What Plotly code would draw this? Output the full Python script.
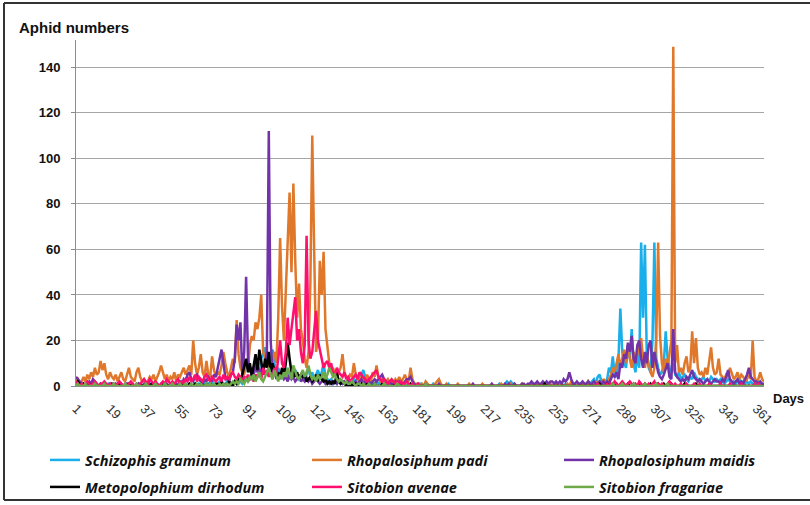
import plotly.graph_objects as go

# ---------------- data (days 1..365) ----------------
days = list(range(1, 366))

schizaphis_graminum = [
    3, 2, 1, 1, 0, 0, 1, 0, 0, 1, 0, 0, 0, 1, 0, 0, 0, 1, 0, 0,
    0, 0, 1, 0, 0, 0, 0, 1, 0, 0, 0, 0, 0, 1, 0, 0, 0, 0, 0, 1,
    0, 0, 0, 1, 0, 0, 0, 0, 1, 0, 0, 0, 0, 0, 1, 0, 0, 0, 1, 0,
    1, 0, 0, 1, 0, 1, 0, 0, 1, 0, 1, 0, 2, 1, 0, 1, 2, 1, 0, 1,
    2, 1, 0, 1, 2, 1, 3, 2, 1, 2, 4, 2, 3, 5, 8, 6, 10, 8, 12, 14,
    17, 13, 9, 12, 16, 10, 6, 8, 5, 4, 6, 8, 5, 3, 6, 4, 7, 5, 3, 4,
    6, 3, 5, 8, 4, 6, 3, 5, 7, 4, 6, 10, 4, 3, 2, 3, 1, 2, 1, 2,
    1, 2, 1, 1, 2, 1, 2, 3, 2, 4, 3, 5, 7, 4, 2, 1, 2, 1, 1, 2,
    1, 2, 1, 1, 0, 1, 0, 1, 0, 0, 1, 0, 0, 1, 0, 0, 1, 0, 0, 0,
    0, 0, 1, 0, 0, 0, 0, 0, 0, 1, 0, 0, 0, 0, 0, 0, 0, 1, 0, 0,
    0, 0, 0, 0, 0, 0, 0, 0, 0, 0, 0, 0, 0, 0, 0, 0, 0, 0, 0, 0,
    0, 0, 0, 0, 1, 0, 0, 1, 2, 1, 2, 1, 1, 0, 0, 0, 1, 0, 0, 0,
    0, 0, 1, 0, 0, 0, 0, 0, 0, 0, 1, 0, 0, 0, 0, 0, 0, 0, 0, 1,
    0, 0, 0, 1, 0, 0, 0, 1, 0, 1, 0, 2, 1, 2, 3, 1, 4, 5, 2, 1,
    2, 3, 8, 6, 13, 5, 4, 12, 34, 15, 10, 8, 18, 12, 25, 10, 6, 14, 8, 63,
    30, 62, 12, 8, 6, 20, 63, 12, 8, 5, 6, 10, 24, 12, 8, 6, 10, 5, 4, 6,
    3, 4, 5, 3, 2, 4, 3, 6, 4, 3, 2, 3, 4, 2, 3, 2, 4, 3, 2, 3,
    2, 3, 2, 1, 2, 3, 2, 1, 2, 1, 2, 3, 1, 2, 1, 2, 1, 2, 1, 1,
    1, 2, 1, 1, 0,
]

rhopalosiphum_padi = [
    2, 3, 1, 2, 4, 2, 5, 3, 6, 4, 8, 5, 6, 11, 7, 10, 5, 3, 6, 4,
    3, 5, 2, 4, 6, 3, 2, 5, 8, 4, 3, 2, 6, 8, 4, 2, 3, 1, 2, 4,
    3, 5, 2, 4, 6, 9, 6, 3, 5, 2, 4, 3, 6, 2, 5, 4, 6, 8, 5, 7,
    9, 5, 20, 10, 5, 8, 14, 6, 4, 11, 5, 4, 13, 7, 4, 6, 5, 9, 15, 10,
    6, 4, 8, 12, 10, 29, 14, 8, 6, 5, 10, 8, 18, 22, 20, 28, 25, 30, 40, 15,
    12, 8, 10, 6, 12, 15, 10, 30, 65, 35, 20, 40, 62, 85, 50, 89, 55, 30, 45, 25,
    20, 12, 8, 15, 45, 110, 60, 15, 20, 55, 40, 59, 25, 18, 10, 6, 8, 5, 4, 6,
    8, 14, 6, 4, 3, 5, 4, 10, 5, 3, 2, 4, 3, 2, 5, 3, 2, 6, 4, 9,
    4, 2, 3, 1, 2, 3, 1, 2, 1, 3, 2, 4, 2, 3, 5, 3, 2, 8, 3, 1,
    1, 0, 0, 1, 0, 2, 1, 0, 0, 0, 1, 2, 3, 1, 0, 0, 1, 0, 0, 0,
    0, 0, 1, 0, 0, 0, 0, 0, 1, 0, 0, 0, 0, 0, 0, 1, 0, 0, 0, 0,
    0, 0, 0, 0, 0, 1, 0, 0, 0, 0, 1, 0, 0, 0, 0, 0, 1, 0, 0, 0,
    0, 1, 0, 0, 1, 0, 0, 1, 0, 0, 0, 1, 0, 0, 1, 0, 0, 1, 0, 0,
    1, 0, 2, 1, 0, 0, 1, 0, 1, 0, 1, 2, 0, 1, 0, 1, 2, 1, 0, 3,
    2, 1, 3, 5, 8, 6, 10, 14, 8, 12, 16, 10, 18, 12, 8, 15, 10, 14, 18, 21,
    12, 8, 14, 10, 6, 4, 8, 20, 63, 22, 10, 6, 12, 8, 15, 20, 149, 10, 18, 6,
    8, 5, 10, 13, 6, 8, 24, 10, 21, 8, 5, 6, 4, 8, 5, 10, 17, 8, 5, 6,
    12, 5, 4, 3, 5, 4, 8, 5, 3, 4, 6, 3, 5, 4, 2, 3, 5, 3, 20, 4,
    2, 3, 6, 3, 2,
]

rhopalosiphum_maidis = [
    4, 3, 2, 1, 1, 0, 1, 2, 1, 3, 2, 1, 0, 1, 0, 1, 0, 0, 1, 0,
    0, 1, 0, 0, 1, 0, 0, 1, 0, 0, 1, 0, 0, 1, 0, 0, 1, 0, 0, 1,
    0, 0, 1, 0, 0, 1, 0, 0, 1, 0, 0, 1, 0, 1, 0, 2, 1, 3, 2, 5,
    6, 3, 2, 4, 5, 3, 2, 1, 3, 2, 4, 3, 2, 5, 4, 8, 12, 16, 10, 4,
    3, 2, 5, 6, 12, 27, 20, 28, 5, 15, 48, 12, 6, 8, 5, 10, 6, 8, 4, 7,
    10, 15, 112, 20, 5, 8, 3, 6, 4, 5, 3, 4, 2, 5, 3, 4, 2, 3, 5, 2,
    3, 2, 4, 2, 3, 1, 2, 3, 2, 1, 2, 3, 1, 2, 1, 2, 1, 2, 1, 3,
    2, 1, 2, 1, 3, 1, 2, 1, 2, 1, 2, 3, 1, 2, 1, 2, 1, 2, 3, 2,
    3, 4, 5, 3, 2, 1, 2, 1, 1, 2, 1, 2, 1, 1, 2, 3, 3, 4, 2, 1,
    0, 1, 0, 0, 0, 1, 0, 0, 0, 0, 0, 0, 1, 0, 0, 0, 0, 0, 0, 0,
    0, 0, 0, 0, 0, 0, 0, 0, 0, 0, 1, 0, 0, 0, 0, 0, 0, 0, 0, 0,
    1, 0, 0, 0, 0, 0, 0, 1, 0, 1, 0, 0, 1, 0, 0, 0, 1, 1, 0, 1,
    1, 2, 1, 1, 2, 1, 1, 2, 1, 2, 1, 2, 2, 1, 2, 1, 2, 1, 3, 2,
    3, 6, 3, 1, 1, 2, 1, 1, 2, 1, 1, 2, 1, 1, 2, 1, 1, 2, 1, 2,
    1, 2, 1, 3, 5, 4, 6, 3, 10, 8, 14, 12, 19, 15, 22, 12, 10, 18, 20, 12,
    8, 15, 10, 18, 20, 8, 15, 10, 6, 4, 3, 5, 8, 10, 4, 3, 25, 6, 4, 3,
    2, 3, 2, 4, 3, 5, 7, 4, 3, 2, 3, 2, 1, 2, 3, 2, 1, 2, 3, 2,
    2, 1, 3, 2, 4, 7, 3, 2, 1, 2, 3, 1, 2, 1, 3, 5, 8, 4, 3, 2,
    2, 1, 2, 1, 1,
]

metopolophium_dirhodum = [
    1, 2, 1, 0, 1, 0, 0, 1, 0, 0, 1, 0, 0, 0, 1, 0, 0, 0, 0, 1,
    0, 0, 0, 1, 0, 0, 0, 0, 1, 0, 0, 0, 0, 0, 1, 0, 0, 0, 0, 0,
    1, 0, 0, 0, 0, 0, 1, 0, 0, 0, 0, 1, 0, 0, 0, 0, 1, 0, 0, 0,
    1, 0, 0, 1, 0, 0, 1, 0, 0, 1, 0, 1, 0, 0, 1, 1, 0, 2, 1, 0,
    1, 2, 1, 0, 2, 1, 3, 2, 5, 8, 12, 6, 10, 4, 9, 14, 7, 16, 11, 5,
    12, 8, 15, 6, 10, 7, 4, 6, 3, 8, 5, 10, 19, 12, 6, 8, 4, 6, 3, 5,
    4, 5, 2, 3, 4, 2, 3, 5, 2, 5, 3, 2, 3, 1, 2, 1, 2, 1, 6, 2,
    1, 2, 1, 0, 1, 0, 1, 0, 1, 0, 0, 1, 0, 0, 1, 0, 0, 0, 1, 0,
    0, 0, 1, 0, 0, 0, 0, 0, 0, 1, 0, 0, 0, 0, 0, 0, 0, 1, 0, 0,
    0, 0, 0, 0, 0, 0, 0, 0, 0, 0, 0, 0, 0, 0, 0, 0, 0, 0, 0, 0,
    0, 0, 0, 0, 0, 0, 0, 0, 0, 0, 0, 0, 0, 0, 0, 0, 0, 0, 0, 0,
    0, 0, 0, 0, 0, 0, 0, 0, 0, 0, 0, 0, 0, 0, 0, 0, 0, 0, 0, 0,
    0, 0, 0, 0, 0, 0, 0, 0, 1, 0, 0, 0, 0, 0, 0, 0, 0, 0, 0, 0,
    0, 0, 0, 0, 0, 0, 0, 0, 0, 0, 0, 0, 0, 0, 0, 0, 0, 1, 0, 0,
    0, 1, 0, 0, 1, 0, 1, 0, 0, 1, 0, 0, 1, 0, 0, 1, 0, 0, 1, 0,
    0, 1, 0, 0, 1, 0, 0, 0, 1, 0, 0, 1, 0, 0, 0, 1, 0, 0, 0, 0,
    0, 0, 1, 0, 0, 0, 0, 0, 1, 0, 0, 0, 0, 0, 0, 0, 0, 0, 0, 0,
    0, 0, 0, 0, 0, 0, 0, 0, 0, 0, 0, 0, 0, 0, 0, 0, 0, 0, 0, 0,
    0, 0, 0, 0, 0,
]

sitobion_avenae = [
    2, 1, 0, 1, 0, 1, 2, 1, 0, 1, 2, 1, 0, 1, 1, 2, 1, 0, 1, 0,
    1, 0, 1, 2, 1, 0, 1, 0, 1, 2, 1, 0, 1, 0, 1, 2, 3, 2, 1, 3,
    2, 1, 2, 1, 0, 1, 2, 1, 3, 2, 1, 2, 1, 2, 3, 1, 2, 1, 3, 2,
    4, 2, 3, 5, 2, 4, 3, 2, 4, 5, 3, 2, 4, 3, 2, 3, 4, 2, 5, 3,
    4, 3, 5, 6, 4, 3, 5, 4, 2, 4, 3, 5, 3, 4, 2, 5, 4, 6, 3, 8,
    5, 7, 4, 6, 3, 8, 5, 12, 20, 10, 8, 15, 30, 18, 25, 34, 39, 20, 25, 15,
    10, 18, 66, 20, 12, 15, 25, 33, 20, 15, 12, 8, 10, 11, 8, 10, 6, 5, 8, 6,
    5, 4, 6, 3, 4, 2, 3, 4, 5, 3, 6, 5, 4, 3, 2, 3, 4, 5, 6, 7,
    4, 3, 2, 3, 2, 1, 2, 3, 2, 1, 2, 1, 2, 1, 1, 2, 1, 0, 1, 0,
    0, 1, 0, 0, 0, 0, 0, 0, 0, 0, 0, 0, 0, 0, 0, 0, 0, 0, 0, 0,
    0, 0, 0, 0, 0, 0, 0, 0, 0, 0, 0, 0, 0, 0, 0, 0, 0, 0, 0, 0,
    0, 0, 0, 0, 0, 0, 0, 0, 0, 0, 0, 0, 0, 0, 0, 0, 0, 0, 0, 0,
    0, 0, 0, 0, 0, 0, 0, 0, 0, 0, 0, 0, 0, 0, 0, 0, 0, 0, 0, 0,
    0, 0, 0, 0, 0, 0, 0, 0, 0, 0, 0, 0, 0, 0, 0, 0, 1, 0, 0, 0,
    0, 1, 0, 1, 0, 2, 1, 0, 1, 2, 1, 0, 1, 2, 1, 0, 1, 0, 2, 1,
    0, 1, 0, 1, 0, 1, 2, 0, 1, 0, 1, 0, 0, 1, 2, 1, 0, 1, 0, 0,
    1, 0, 0, 1, 0, 0, 0, 1, 0, 0, 1, 0, 0, 0, 0, 1, 0, 0, 0, 0,
    0, 1, 0, 0, 0, 0, 1, 0, 0, 0, 0, 0, 1, 0, 0, 0, 0, 0, 0, 1,
    0, 1, 0, 0, 0,
]

sitobion_fragariae = [
    0, 1, 0, 0, 0, 1, 0, 0, 0, 0, 1, 0, 0, 0, 0, 1, 0, 0, 0, 0,
    1, 0, 0, 0, 0, 0, 1, 0, 0, 0, 0, 0, 1, 0, 0, 0, 0, 1, 0, 0,
    0, 0, 1, 0, 0, 0, 0, 1, 0, 0, 0, 1, 0, 0, 0, 1, 0, 0, 1, 0,
    0, 1, 0, 0, 1, 0, 1, 0, 0, 1, 0, 1, 0, 1, 0, 0, 1, 0, 1, 0,
    1, 0, 1, 2, 1, 2, 1, 3, 2, 1, 3, 2, 4, 3, 5, 2, 4, 6, 3, 2,
    4, 6, 8, 5, 3, 7, 4, 2, 5, 3, 6, 4, 8, 5, 3, 9, 6, 4, 3, 5,
    7, 4, 6, 9, 5, 3, 4, 2, 5, 3, 4, 6, 3, 5, 8, 6, 4, 5, 3, 2,
    3, 2, 1, 2, 1, 1, 2, 1, 0, 1, 1, 0, 1, 0, 0, 1, 0, 0, 1, 0,
    0, 0, 0, 1, 0, 0, 0, 0, 0, 0, 1, 0, 0, 0, 0, 0, 0, 0, 0, 0,
    0, 0, 0, 0, 0, 1, 0, 0, 0, 0, 0, 0, 0, 0, 0, 0, 0, 0, 0, 0,
    0, 0, 0, 0, 0, 0, 0, 0, 0, 0, 0, 0, 0, 0, 0, 0, 0, 0, 0, 0,
    0, 0, 0, 0, 0, 0, 0, 0, 0, 0, 0, 0, 0, 0, 0, 0, 0, 0, 0, 0,
    0, 0, 0, 0, 0, 0, 0, 0, 0, 0, 0, 0, 0, 0, 0, 0, 0, 0, 0, 0,
    0, 0, 0, 0, 0, 0, 0, 0, 0, 0, 0, 0, 0, 0, 0, 0, 0, 0, 0, 0,
    0, 0, 0, 0, 1, 0, 0, 0, 0, 1, 0, 0, 0, 0, 0, 1, 0, 0, 0, 0,
    0, 1, 0, 0, 0, 0, 0, 1, 0, 0, 0, 0, 0, 1, 0, 0, 0, 0, 0, 0,
    0, 0, 0, 0, 0, 0, 0, 0, 0, 0, 0, 0, 0, 0, 0, 0, 0, 0, 0, 0,
    0, 0, 0, 0, 0, 0, 0, 0, 0, 0, 0, 0, 0, 0, 0, 0, 0, 0, 0, 0,
    0, 0, 0, 0, 0,
]

series_names = ["Schizophis graminum", "Rhopalosiphum padi", "Rhopalosiphum maidis",
                "Metopolophium dirhodum", "Sitobion avenae", "Sitobion fragariae"]
series_values = [schizaphis_graminum, rhopalosiphum_padi, rhopalosiphum_maidis,
                 metopolophium_dirhodum, sitobion_avenae, sitobion_fragariae]
series_colors = ["#1AAEEA", "#E0782C", "#7232A8", "#000000", "#FF0F6E", "#6FAA4A"]

for v in series_values:
    assert len(v) == 365, len(v)

# ---------------- layout geometry ----------------
W, H = 810, 505
ML, MR, MT, MB = 76, 46, 40, 119
PW = W - ML - MR
PH = H - MT - MB
PLOT_BOTTOM = H - MB


def px_x(p):
    return (p - ML) / PW


def px_y(p):
    return (PLOT_BOTTOM - p) / PH


fig = go.Figure()

# legend slots: (legend id, x px of item start, y px of row centre)
legend_slots = [("legend", 45, 460), ("legend2", 307, 460), ("legend3", 559, 460),
                ("legend4", 45, 487), ("legend5", 307, 487), ("legend6", 559, 487)]

for name, vals, col, slot in zip(series_names, series_values, series_colors, legend_slots):
    fig.add_trace(go.Scatter(
        x=days, y=vals, mode="lines", name=name,
        line=dict(color=col, width=2.5),
        legend=slot[0],
    ))

legend_font = dict(family="Open Sans, sans-serif", size=14.5, color="#111111",
                   style="italic", weight="bold")
for lid, lx, ly in legend_slots:
    fig.layout[lid] = dict(
        x=px_x(lx), y=px_y(ly), xanchor="left", yanchor="middle",
        xref="paper", yref="paper",
        font=legend_font, bgcolor="rgba(0,0,0,0)", borderwidth=0,
        itemwidth=30, tracegroupgap=0,
    )

fig.update_layout(
    width=W, height=H,
    margin=dict(l=ML, r=MR, t=MT, b=MB, pad=0, autoexpand=False),
    paper_bgcolor="white", plot_bgcolor="white",
    showlegend=True,
    xaxis=dict(
        range=[1, 365], tickmode="linear", tick0=1, dtick=18,
        tickangle=45, ticks="", showgrid=False, zeroline=False,
        showline=True, linecolor="#8C8C8C", linewidth=1,
        tickfont=dict(family="Liberation Sans, Arial, sans-serif", size=13, color="#333333"),
        ticklabelstandoff=9,
    ),
    xaxis2=dict(
        overlaying="x", matches="x", range=[1, 365], anchor="y", side="bottom",
        tickmode="linear", tick0=1, dtick=30, ticks="outside", ticklen=5,
        tickcolor="#8C8C8C", showticklabels=False, showgrid=False,
        zeroline=False, showline=False,
    ),
    yaxis=dict(
        range=[0, 152], tickmode="linear", tick0=0, dtick=20,
        showgrid=True, gridcolor="#A6A6A6", gridwidth=1, zeroline=False,
        showline=True, linecolor="#8C8C8C", linewidth=1,
        ticks="outside", ticklen=4, tickcolor="#8C8C8C",
        ticklabelstandoff=8,
        tickfont=dict(family="Liberation Sans, Arial, sans-serif", size=13,
                      color="#111111", weight="bold"),
    ),
    annotations=[
        dict(text="Aphid numbers", x=px_x(17), y=px_y(28), xref="paper", yref="paper",
             xanchor="left", yanchor="middle", showarrow=False,
             font=dict(family="Liberation Sans, Arial, sans-serif", size=15,
                       color="#111111", weight="bold")),
        dict(text="Days", x=px_x(771), y=px_y(398), xref="paper", yref="paper",
             xanchor="left", yanchor="middle", showarrow=False,
             font=dict(family="Liberation Sans, Arial, sans-serif", size=13,
                       color="#111111", weight="bold")),
    ],
    shapes=[
        dict(type="line", xref="paper", yref="paper", x0=px_x(4), x1=px_x(4),
             y0=px_y(3), y1=px_y(500), line=dict(color="#333333", width=2)),
        dict(type="line", xref="paper", yref="paper", x0=px_x(4), x1=px_x(812),
             y0=px_y(3), y1=px_y(3), line=dict(color="#333333", width=2)),
        dict(type="line", xref="paper", yref="paper", x0=px_x(4), x1=px_x(812),
             y0=px_y(500), y1=px_y(500), line=dict(color="#333333", width=2)),
    ],
)

fig.write_html("out.html", config={"displayModeBar": False},
               post_script="document.body.style.margin='0';")
